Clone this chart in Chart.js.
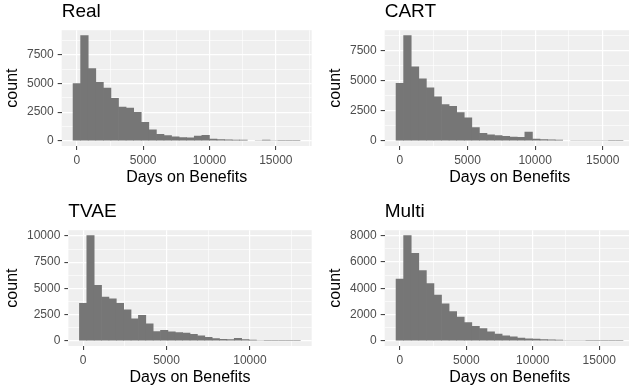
<!DOCTYPE html>
<html>
<head>
<meta charset="utf-8">
<script src="https://cdn.jsdelivr.net/npm/chart.js@4.4.1/dist/chart.umd.min.js"></script>
<style>
  html, body { margin: 0; padding: 0; background: #fff; overflow: hidden; }
  #wrap { position: relative; width: 629px; height: 389px; overflow: hidden; }
  .panel { position: absolute; width: 315px; height: 195px; }
</style>
</head>
<body>
<div id="wrap">
  <div class="panel" style="left:0;top:0"><canvas id="realChart" width="315" height="195"></canvas></div>
  <div class="panel" style="left:323px;top:0"><canvas id="cartChart" width="315" height="195"></canvas></div>
  <div class="panel" style="left:0;top:200px"><canvas id="tvaeChart" width="315" height="195"></canvas></div>
  <div class="panel" style="left:323px;top:200px"><canvas id="multiChart" width="315" height="195"></canvas></div>
</div>
<script>
// histogram counts (30 bins each)
const realCounts  = [5000, 9200, 6300, 5100, 4600, 3700, 2950, 2850, 2480, 1600, 960, 560, 440, 350, 270, 260, 400, 470, 150, 100, 80, 55, 45, 35, 30, 40, 10, 5, 3, 2];
const cartCounts  = [4780, 8750, 6150, 5150, 4400, 3650, 3000, 2850, 2350, 1900, 1100, 620, 500, 420, 360, 300, 280, 720, 140, 100, 80, 60, 35, 30, 25, 20, 25, 15, 8, 4];
const tvaeCounts  = [3560, 10050, 5280, 4170, 4000, 3560, 2950, 2100, 2420, 1620, 870, 990, 840, 780, 740, 620, 460, 320, 200, 130, 120, 220, 120, 60, 15, 8, 5, 3, 2, 2];
const multiCounts = [4700, 8020, 6650, 5350, 4350, 3480, 2820, 2220, 1800, 1380, 1100, 920, 670, 510, 380, 290, 200, 150, 120, 95, 65, 45, 25, 15, 10, 6, 4, 3, 2, 1];

// bin widths (days)
const realBin = 571, cartBin = 560, tvaeBin = 442, multiBin = 570;

// tick values
const xMajor      = [0, 5000, 10000, 15000];
const xMinor      = [2500, 7500, 12500, 17500];
const yMajor2500  = [0, 2500, 5000, 7500, 10000];
const yMinor2500  = [1250, 3750, 6250, 8750];
const yMajor2000  = [0, 2000, 4000, 6000, 8000];
const yMinor2000  = [1000, 3000, 5000, 7000];

const FONT = "'Liberation Sans', Arial, sans-serif";
const PANEL = '#EFEFEF';
const BAR = '#767676';

// grey panel behind the bars
const panelBg = {
  id: 'panelBg',
  beforeDraw(chart) {
    const { ctx, chartArea: a } = chart;
    ctx.save();
    ctx.fillStyle = PANEL;
    ctx.fillRect(a.left, a.top, a.right - a.left, a.bottom - a.top);
    ctx.restore();
  }
};

function makeTicks(major, minor, min, max) {
  return major.map(v => ({ value: v }))
    .concat(minor.map(v => ({ value: v, minor: true })))
    .filter(t => t.value >= min && t.value <= max)
    .sort((a, b) => a.value - b.value);
}

const isMinor = c => c.tick && c.tick.minor;

function histogram(id, title, counts, binWidth, yMajor, yMinor) {
  // ggplot style 5% expansion
  const lo = -binWidth / 2, hi = (counts.length - 0.5) * binWidth;
  const xMin = lo - 0.05 * (hi - lo), xMax = hi + 0.05 * (hi - lo);
  const top = Math.max(...counts);
  const yMin = -0.05 * top, yMax = 1.05 * top;

  new Chart(document.getElementById(id), {
    type: 'bar',
    data: {
      datasets: [{
        data: counts.map((c, i) => ({ x: i * binWidth, y: c })),
        backgroundColor: BAR,
        borderWidth: 0,
        barPercentage: 1,
        categoryPercentage: 1,
        // close the seams between bars, but keep near-empty bins invisible
        inflateAmount: c => (c.raw && c.raw.y > top * 0.004) ? 0.33 : 0
      }]
    },
    options: {
      responsive: false,
      animation: false,
      layout: { padding: { left: 0, right: 3.3, top: 0, bottom: 4 } },
      plugins: {
        legend: { display: false },
        tooltip: { enabled: false },
        title: {
          display: true, text: title, align: 'start', fullSize: false,
          color: '#000', font: { size: 19, family: FONT, weight: 'normal' },
          padding: { top: 0, bottom: 7.4 }
        }
      },
      scales: {
        x: {
          type: 'linear', min: xMin, max: xMax, offset: false,
          afterBuildTicks: s => { s.ticks = makeTicks(xMajor, xMinor, xMin, xMax); },
          grid: {
            offset: false, color: '#fff',
            lineWidth: c => isMinor(c) ? 0.6 : 1.2,
            tickLength: 4, tickWidth: 1,
            tickColor: c => isMinor(c) ? 'rgba(0,0,0,0)' : '#333'
          },
          border: { display: false },
          ticks: {
            autoSkip: false, maxRotation: 0, padding: 3,
            color: '#4D4D4D', font: { size: 12, family: FONT },
            callback: (v, i, t) => t[i].minor ? '' : String(v)
          },
          title: {
            display: true, text: 'Days on Benefits', color: '#000',
            font: { size: 16, family: FONT }, padding: { top: -2.6, bottom: 4 }
          }
        },
        y: {
          min: yMin, max: yMax,
          afterBuildTicks: s => { s.ticks = makeTicks(yMajor, yMinor, yMin, yMax); },
          grid: {
            color: '#fff',
            lineWidth: c => isMinor(c) ? 0.6 : 1.2,
            tickLength: 4, tickWidth: 1,
            tickColor: c => isMinor(c) ? 'rgba(0,0,0,0)' : '#333'
          },
          border: { display: false },
          ticks: {
            autoSkip: false, padding: 4,
            color: '#4D4D4D', font: { size: 12, family: FONT },
            callback: (v, i, t) => t[i].minor ? '' : String(v)
          },
          title: {
            display: true, text: 'count', color: '#000',
            font: { size: 16, family: FONT }, padding: { top: 3.4, bottom: 0.4 }
          }
        }
      }
    },
    plugins: [panelBg]
  });
}

histogram('realChart', 'Real', realCounts, realBin, yMajor2500, yMinor2500);
histogram('cartChart', 'CART', cartCounts, cartBin, yMajor2500, yMinor2500);
histogram('tvaeChart', 'TVAE', tvaeCounts, tvaeBin, yMajor2500, yMinor2500);
histogram('multiChart', 'Multi', multiCounts, multiBin, yMajor2000, yMinor2000);
</script>
</body>
</html>
